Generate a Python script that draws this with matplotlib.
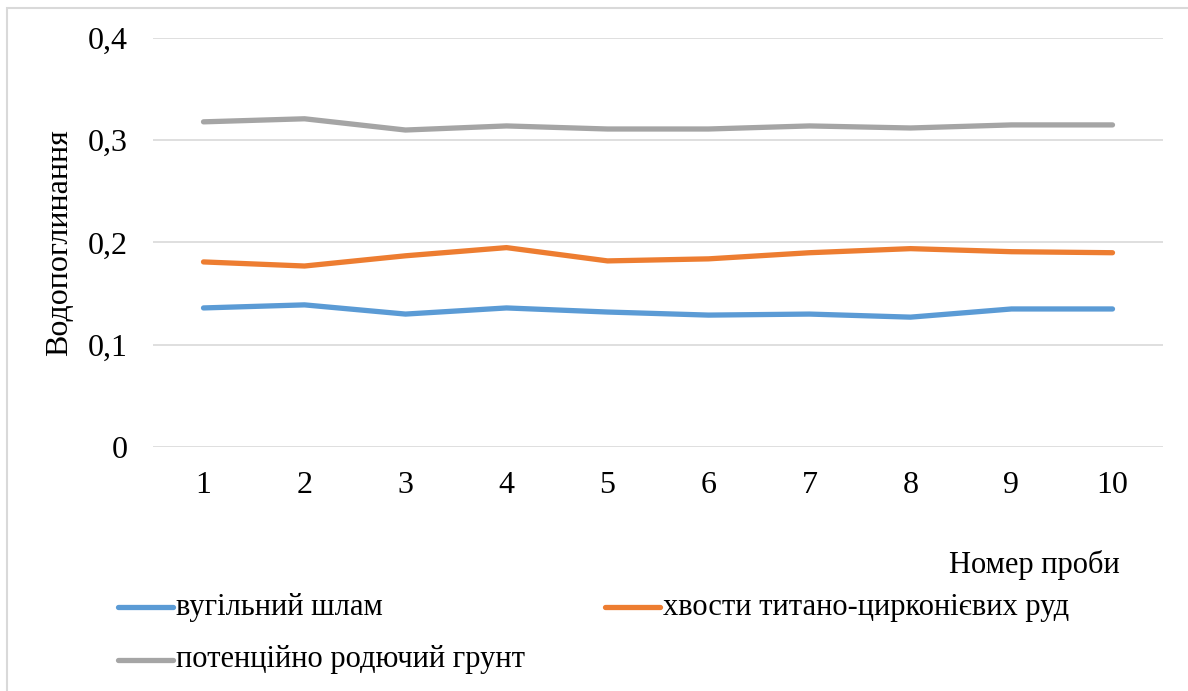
import matplotlib
matplotlib.use("Agg")
from matplotlib import pyplot as plt
from matplotlib.lines import Line2D
from matplotlib.patches import Rectangle

samples = [1, 2, 3, 4, 5, 6, 7, 8, 9, 10]
coal_sludge = [0.136, 0.139, 0.130, 0.136, 0.132, 0.129, 0.130, 0.127, 0.135, 0.135]
ti_zr_tails = [0.181, 0.177, 0.187, 0.195, 0.182, 0.184, 0.190, 0.194, 0.191, 0.190]
fertile_soil = [0.318, 0.321, 0.310, 0.314, 0.311, 0.311, 0.314, 0.312, 0.315, 0.315]
y_ticks = [0, 0.1, 0.2, 0.3, 0.4]
y_labels = ["0", "0,1", "0,2", "0,3", "0,4"]
names = ["вугільний шлам", "хвости титано-цирконієвих руд", "потенційно родючий грунт"]
colors = ["#5B9BD5", "#ED7D31", "#A5A5A5"]

plt.rcParams['font.family'] = ['Liberation Serif', 'DejaVu Serif']

W, H = 1188, 691
fig = plt.figure(figsize=(W / 100, H / 100), dpi=100)
ax = fig.add_axes([153 / W, 1 - 447 / H, (1163 - 153) / W, (447 - 38) / H])

for vals, c in zip([coal_sludge, ti_zr_tails, fertile_soil], colors):
    ax.plot(samples, vals, color=c, lw=3.8, solid_capstyle='round', solid_joinstyle='round')

ax.set_xlim(0.5, 10.5)
ax.set_ylim(0, 0.4)
ax.set_yticks(y_ticks)
ax.set_yticklabels(y_labels)
ax.set_xticks(samples)
ax.grid(axis='y', color='#D9D9D9', lw=1.2)
ax.set_axisbelow(True)
for s in ax.spines.values():
    s.set_visible(False)
ax.tick_params(length=0, labelsize=23)
ax.tick_params(axis='y', pad=18)
ax.tick_params(axis='x', pad=17)

fig.text(60 / W, 1 - 243 / H, "Водопоглинання", rotation=90, fontsize=23,
         ha='center', va='center')
fig.text(1120 / W, 1 - 565 / H, "Номер проби", fontsize=22, ha='right', va='center')

# legend, laid out like the original (two columns)
pos = [(118, 607), (605, 607), (118, 660)]
for (px, py), name, c in zip(pos, names, colors):
    fig.add_artist(Line2D([px / W, (px + 55) / W], [1 - py / H, 1 - py / H],
                          color=c, lw=3.8, solid_capstyle='round'))
    fig.text((px + 58) / W, 1 - py / H, name, fontsize=22, ha='left', va='center')

fig.add_artist(Rectangle((7 / W, -0.1), 1.2, 1 - 8 / H + 0.1, transform=fig.transFigure,
                         fill=False, edgecolor='#D9D9D9', lw=1.5))

fig.savefig("out.png", dpi=100)
